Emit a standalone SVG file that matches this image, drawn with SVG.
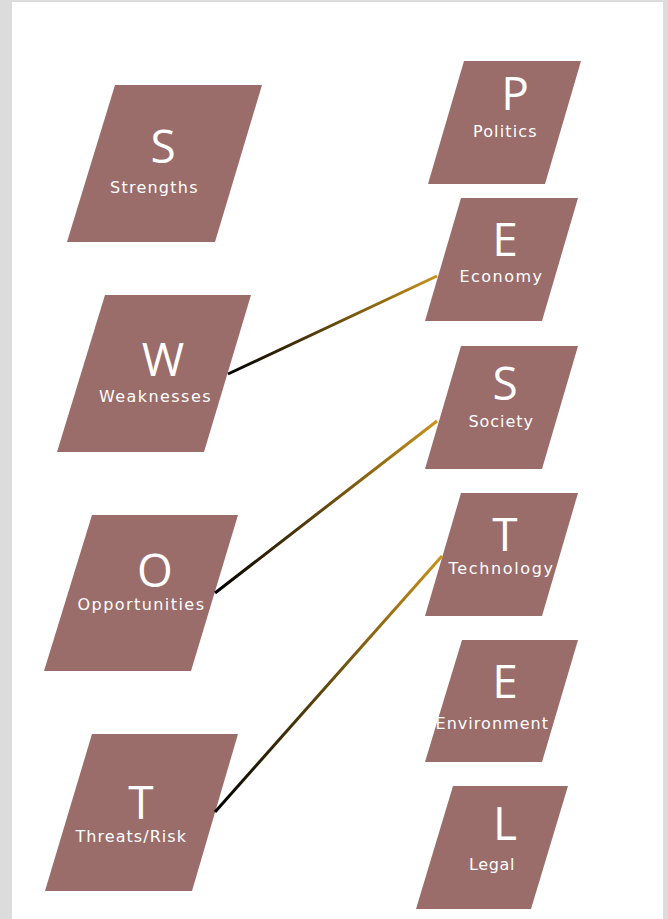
<svg xmlns="http://www.w3.org/2000/svg" width="668" height="919" viewBox="0 0 668 919">
<style>
.shape{fill:#9a6c6a}
.big{font-family:"Open Sans","DejaVu Sans",sans-serif;font-size:46px;fill:#ffffff;text-anchor:middle}
.lbl{font-family:"DejaVu Sans","Noto Sans",sans-serif;font-size:16px;fill:#ffffff;text-anchor:middle;letter-spacing:0.5px}
.conn{fill:none;stroke-width:3;stroke-linecap:butt}
</style>
<defs>
<linearGradient id="g1" gradientUnits="userSpaceOnUse" x1="228" y1="374" x2="437" y2="276"><stop offset="0" stop-color="#000000"/><stop offset="1" stop-color="#c8921a"/></linearGradient>
<linearGradient id="g2" gradientUnits="userSpaceOnUse" x1="215" y1="593" x2="437" y2="421"><stop offset="0" stop-color="#000000"/><stop offset="1" stop-color="#c8921a"/></linearGradient>
<linearGradient id="g3" gradientUnits="userSpaceOnUse" x1="215" y1="812" x2="442" y2="556"><stop offset="0" stop-color="#000000"/><stop offset="1" stop-color="#c8921a"/></linearGradient>
</defs>
<rect x="0" y="0" width="668" height="919" fill="#dcdcdc"/>
<rect x="12" y="2" width="651" height="917" fill="#ffffff"/>

<g id="node-S">
<polygon class="shape" points="115,85 262,85 215,242 67,242"/>
<text class="big" x="163" y="163">S</text>
<text class="lbl" x="154" y="193" textLength="88" lengthAdjust="spacing">Strengths</text>
</g>
<g id="node-W">
<polygon class="shape" points="105,295 251,295 204,452 57,452"/>
<text class="big" x="163" y="376">W</text>
<text class="lbl" x="155" y="402" textLength="112" lengthAdjust="spacing">Weaknesses</text>
</g>
<g id="node-O">
<polygon class="shape" points="92,515 238,515 191,671 44,671"/>
<text class="big" x="155" y="587">O</text>
<text class="lbl" x="141" y="610" textLength="127" lengthAdjust="spacing">Opportunities</text>
</g>
<g id="node-T">
<polygon class="shape" points="92,734 238,734 192,891 45,891"/>
<text class="big" x="141" y="819">T</text>
<text class="lbl" x="131" y="842" textLength="111" lengthAdjust="spacing">Threats/Risk</text>
</g>

<g id="node-P">
<polygon class="shape" points="464,61 581,61 545,184 428,184"/>
<text class="big" x="515" y="110">P</text>
<text class="lbl" x="505" y="137" textLength="64" lengthAdjust="spacing">Politics</text>
</g>
<g id="node-E1">
<polygon class="shape" points="461,198 578,198 542,321 425,321"/>
<text class="big" x="505" y="256">E</text>
<text class="lbl" x="501" y="282" textLength="83" lengthAdjust="spacing">Economy</text>
</g>
<g id="node-S2">
<polygon class="shape" points="461,346 578,346 542,469 425,469"/>
<text class="big" x="505" y="400">S</text>
<text class="lbl" x="501" y="427" textLength="65" lengthAdjust="spacing">Society</text>
</g>
<g id="node-T2">
<polygon class="shape" points="461,493 578,493 542,616 425,616"/>
<text class="big" x="505" y="551">T</text>
<text class="lbl" x="501" y="574" textLength="105" lengthAdjust="spacing">Technology</text>
</g>
<g id="node-E2">
<polygon class="shape" points="462,640 578,640 542,762 425,762"/>
<text class="big" x="505" y="698">E</text>
<text class="lbl" x="492" y="729" textLength="113" lengthAdjust="spacing">Environment</text>
</g>
<g id="node-L">
<polygon class="shape" points="453,786 568,786 531,909 416,909"/>
<text class="big" x="505" y="840">L</text>
<text class="lbl" x="492" y="870" textLength="46" lengthAdjust="spacing">Legal</text>
</g>

<g id="connectors">
<line class="conn" x1="228" y1="374" x2="437" y2="276" stroke="url(#g1)"/>
<line class="conn" x1="215" y1="593" x2="437" y2="421" stroke="url(#g2)"/>
<line class="conn" x1="215" y1="812" x2="442" y2="556" stroke="url(#g3)"/>
</g>
</svg>
